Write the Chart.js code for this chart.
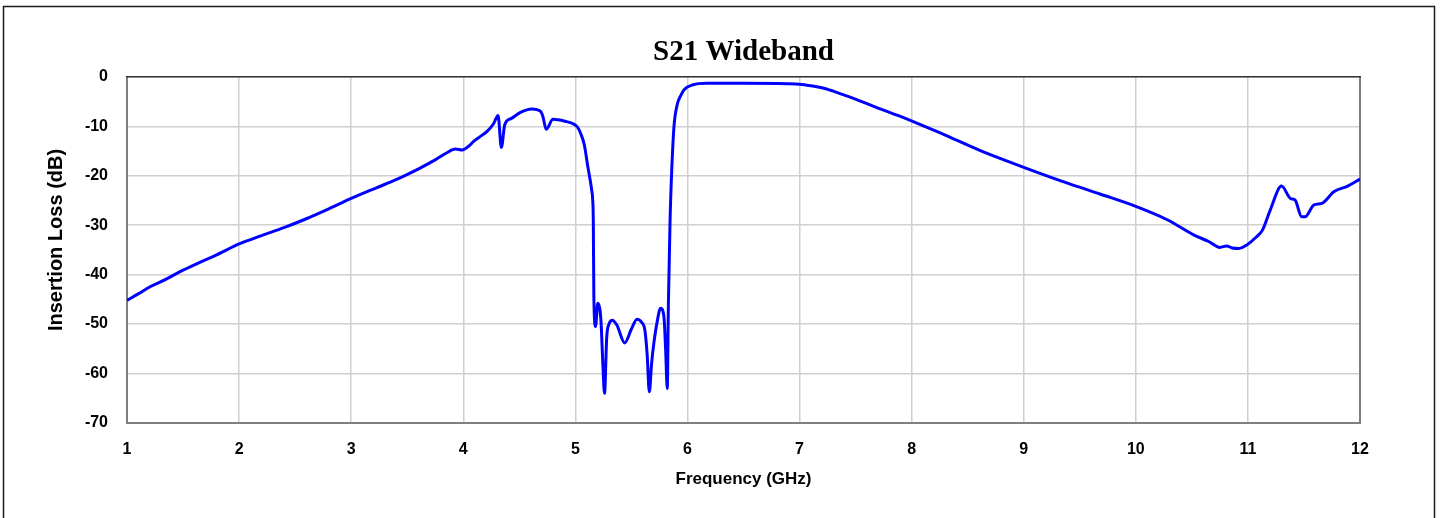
<!DOCTYPE html>
<html>
<head>
<meta charset="utf-8">
<title>S21 Wideband</title>
<script src="https://cdn.jsdelivr.net/npm/chart.js@4.4.1/dist/chart.umd.min.js"></script>
<style>
    html, body { margin: 0; padding: 0; background: #fff; }
    #wrap { width: 1444px; height: 518px; }
</style>
</head>
<body>
<div id="wrap"><canvas id="s21Chart" width="1444" height="518"></canvas></div>
<script>
const freqGHz = [
    1.00, 1.10, 1.21, 1.35, 1.50, 1.65, 1.80, 2.00, 2.20, 2.40, 2.60, 2.80, 3.00, 3.23, 3.40, 3.61, 3.75, 3.85,
    3.93, 3.99, 4.05, 4.09, 4.15, 4.21, 4.27, 4.31, 4.34, 4.37, 4.43, 4.51, 4.61, 4.69, 4.71, 4.74, 4.80, 4.91,
    4.98, 5.02, 5.05, 5.08, 5.11, 5.145, 5.155, 5.16, 5.165, 5.18, 5.20, 5.22, 5.23, 5.245, 5.26, 5.28, 5.30, 5.33,
    5.37, 5.44, 5.50, 5.55, 5.59, 5.62, 5.64, 5.66, 5.68, 5.70, 5.73, 5.76, 5.79, 5.805, 5.82, 5.83, 5.845, 5.86,
    5.88, 5.91, 5.94, 5.97, 6.05, 6.17, 6.50, 6.89, 7.00, 7.10, 7.20, 7.30, 7.40, 7.51, 7.72, 7.90, 8.02, 8.26,
    8.35, 8.64, 9.00, 9.39, 9.68, 10.00, 10.28, 10.52, 10.65, 10.75, 10.81, 10.86, 10.92, 10.99, 11.07, 11.13,
    11.20, 11.30, 11.38, 11.42, 11.48, 11.51, 11.59, 11.66, 11.77, 11.89, 12.00
];
const lossDb = [
    -45.2, -43.9, -42.4, -40.9, -39.1, -37.5, -36.0, -33.8, -32.1, -30.5, -28.7, -26.7, -24.6, -22.4, -20.8, -18.5, -16.8, -15.4,
    -14.6, -14.8, -14.0, -13.1, -12.1, -11.1, -9.5, -7.8, -14.3, -9.7, -8.4, -7.2, -6.5, -7.0, -8.0, -10.6, -8.6, -9.0,
    -9.5, -10.2, -11.6, -13.8, -18.0, -22.8, -25.0, -29.0, -44.5, -50.5, -45.8, -47.2, -50.0, -58.0, -64.0, -52.6, -50.0, -49.2,
    -50.2, -53.8, -51.0, -49.0, -49.6, -51.2, -56.0, -63.7, -58.0, -53.9, -49.5, -46.8, -48.5, -55.0, -63.0, -45.8, -28.9, -18.8,
    -10.0, -5.5, -3.8, -2.6, -1.6, -1.3, -1.3, -1.4, -1.5, -1.8, -2.2, -2.9, -3.7, -4.6, -6.5, -8.0, -9.1, -11.4,
    -12.3, -15.2, -18.3, -21.5, -23.7, -26.2, -28.9, -32.0, -33.3, -34.5, -34.2, -34.6, -34.7, -34.0, -32.5, -31.0,
    -26.9, -22.1, -24.6, -24.9, -28.3, -28.3, -25.9, -25.6, -23.2, -22.1, -20.7
];
const xTicks = [1, 2, 3, 4, 5, 6, 7, 8, 9, 10, 11, 12];
const yTicks = [0, -10, -20, -30, -40, -50, -60, -70];

const points = freqGHz.map((f, i) => ({ x: f, y: lossDb[i] }));

const sansBold = '"Liberation Sans", Arial, sans-serif';

// Outer border of the picture
const outerFrame = {
    id: 'outerFrame',
    beforeDraw(chart) {
        const ctx = chart.ctx;
        ctx.save();
        ctx.fillStyle = '#ffffff';
        ctx.fillRect(0, 0, chart.width, chart.height);
        ctx.strokeStyle = '#1a1a1a';
        ctx.lineWidth = 1.5;
        ctx.strokeRect(3.5, 6.5, 1431, 600);
        ctx.restore();
    }
};

// Box round the plot area, and the y axis title
const plotFrame = {
    id: 'plotFrame',
    beforeDatasetsDraw(chart) {
        const { left, right, top, bottom } = chart.chartArea;
        const ctx = chart.ctx;
        ctx.save();
        ctx.strokeStyle = '#7f7f7f';
        ctx.lineWidth = 2;
        ctx.beginPath();
        ctx.moveTo(left, top);
        ctx.lineTo(left, bottom);
        ctx.lineTo(right, bottom);
        ctx.lineTo(right, top);
        ctx.stroke();
        ctx.strokeStyle = '#333333';
        ctx.lineWidth = 1.5;
        ctx.beginPath();
        ctx.moveTo(left - 1, top);
        ctx.lineTo(right + 1, top);
        ctx.stroke();

        ctx.translate(56, 240);
        ctx.rotate(-Math.PI / 2);
        ctx.fillStyle = '#000000';
        ctx.font = 'bold 20px ' + sansBold;
        ctx.textAlign = 'center';
        ctx.textBaseline = 'middle';
        ctx.fillText('Insertion Loss (dB)', 0, 0);
        ctx.restore();
    }
};

const ctx = document.getElementById('s21Chart').getContext('2d');
const s21Chart = new Chart(ctx, {
    type: 'line',
    data: {
        datasets: [{
            label: 'S21',
            data: points,
            borderColor: '#0000ff',
            borderWidth: 3,
            pointRadius: 0,
            fill: false,
            cubicInterpolationMode: 'monotone'
        }]
    },
    options: {
        responsive: false,
        devicePixelRatio: 1,
        animation: false,
        layout: { padding: { left: 0, right: 84, top: 0, bottom: 0 } },
        plugins: {
            legend: { display: false },
            tooltip: { enabled: false },
            title: {
                display: true,
                fullSize: false,
                text: 'S21 Wideband',
                color: '#000000',
                font: { family: '"Liberation Serif", "Times New Roman", serif', size: 29, weight: 'bold' },
                padding: { top: 35, bottom: 7 }
            }
        },
        scales: {
            x: {
                type: 'linear',
                min: 1,
                max: 12,
                afterBuildTicks: scale => { scale.ticks = xTicks.map(v => ({ value: v })); },
                afterFit: scale => { scale.height = 95; },
                grid: { color: '#d0d0d0', lineWidth: 1.5, drawTicks: false },
                border: { display: false },
                ticks: {
                    padding: 17,
                    color: '#000000',
                    font: { family: sansBold, size: 16, weight: 'bold' },
                    maxRotation: 0
                },
                title: {
                    display: true,
                    text: 'Frequency (GHz)',
                    color: '#000000',
                    font: { family: sansBold, size: 17, weight: 'bold' },
                    padding: { top: 0, bottom: 28 }
                }
            },
            y: {
                min: -70,
                max: 0,
                afterBuildTicks: scale => { scale.ticks = yTicks.map(v => ({ value: v })); },
                afterFit: scale => { scale.width = 127; },
                grid: { color: '#d0d0d0', lineWidth: 1.5, drawTicks: false },
                border: { display: false },
                ticks: {
                    padding: 19,
                    color: '#000000',
                    font: { family: sansBold, size: 16, weight: 'bold' }
                }
            }
        }
    },
    plugins: [outerFrame, plotFrame]
});
</script>
</body>
</html>
